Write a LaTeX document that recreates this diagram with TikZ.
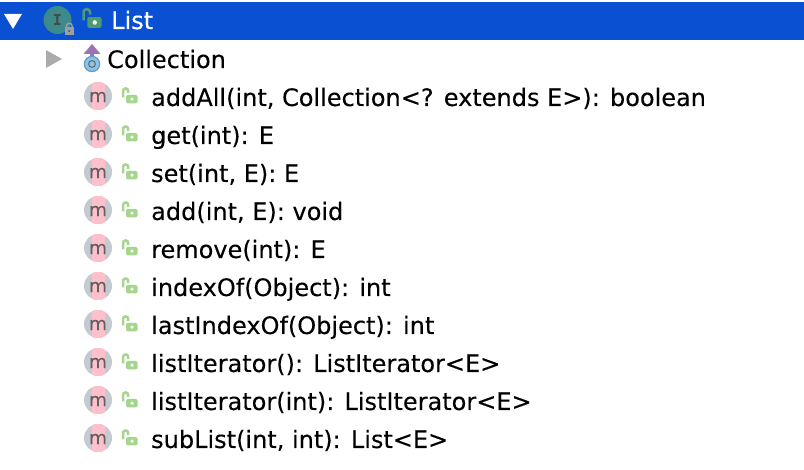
\documentclass[tikz,border=0pt]{standalone}
\usepackage{fontspec}
\setmainfont[FakeBold=0.12]{DejaVu Sans}
\newfontfamily\iconmono{DejaVu Sans Mono}
\newfontfamily\titlefont[FakeBold=0.5]{DejaVu Sans}
\definecolor{barblue}{HTML}{0A50D2}
\definecolor{lockgreen}{HTML}{A6D68E}
\definecolor{lockdark}{HTML}{4C9C70}
\definecolor{ifaceteal}{HTML}{3C8A8C}
\definecolor{methodgray}{HTML}{C4CAD0}
\definecolor{methodpink}{HTML}{FFC0CC}
\definecolor{inheritpurple}{HTML}{9A74B6}
\definecolor{ringblue}{HTML}{8CC4E8}
\definecolor{ringedge}{HTML}{5E9CC8}

\begin{document}
\begin{tikzpicture}[x=1pt,y=-1pt]
  \useasboundingbox (0,0) rectangle (804,470);

  \tikzset{row text/.style={anchor=base west, inner sep=0pt, text=black, font=\fontsize{24}{28}\selectfont}}
  \tikzset{open lock/.pic={
      \draw[#1, line width=2.5pt] (-2,1.5) -- (-2,-5) arc (180:360:2.6) -- (3.2,-3);
      \fill[#1, rounded corners=1.5pt] (1,-1) rectangle (12.5,7.5);
      \fill[white] (7,3.2) circle (1.8);
  }}
  \tikzset{method icon/.pic={
      \fill[methodgray] (0,0) circle (14);
      \begin{scope}
        \clip (0,0) circle (14);
        \fill[methodpink] (-6.5,-14) rectangle (6.5,14);
      \end{scope}
      \node[text=black!62, inner sep=0pt, font=\fontsize{18.5}{22}\selectfont] at (0,1) {m};
  }}

  % top bar
  \fill[barblue] (0,2) rectangle (804,40);
  \fill[white] (4,14) -- (22,14) -- (13,29) -- cycle;
  \fill[ifaceteal] (57.5,20) circle (14);
  \node[text=black!72, inner sep=0pt, font=\iconmono\bfseries\fontsize{15}{18}\selectfont] (ifaceletter) at (57.5,20.5) {I};
  \fill[black!38] (64.5,27) rectangle (74,35);
  \draw[black!38, line width=1.4pt] (66.5,27) -- (66.5,26) arc (180:360:2.8) -- (72,27);
  \fill[barblue] (69.2,31) circle (1);
  \pic[scale=1.25] at (86,18.5) {open lock=lockdark};
  \node[anchor=base west, inner sep=0pt, text=white, font=\titlefont\fontsize{24}{28}\selectfont] (listname) at (111,29) {List};

  % inherited
  \fill[black!33] (46,50) -- (62,59) -- (46,68) -- cycle;
  \fill[inheritpurple] (92,44) -- (100.5,54) -- (94,54) -- (94,59) -- (90,59) -- (90,54) -- (83.5,54) -- cycle;
  \fill[ringblue, draw=ringedge, line width=1.2pt] (92,64) circle (7.6);
  \draw[black!60, line width=1pt] (92,64) circle (3.4);
  \node[row text] (collection) at (107,68) {Collection};

  % methods
  \pic at (98,96) {method icon};
  \pic at (98,134) {method icon};
  \pic at (98,172) {method icon};
  \pic at (98,210) {method icon};
  \pic at (98,248) {method icon};
  \pic at (98,286) {method icon};
  \pic at (98,324) {method icon};
  \pic at (98,362) {method icon};
  \pic at (98,400) {method icon};
  \pic at (98,438) {method icon};

  \pic at (125,96) {open lock=lockgreen};
  \pic at (125,134) {open lock=lockgreen};
  \pic at (125,172) {open lock=lockgreen};
  \pic at (125,210) {open lock=lockgreen};
  \pic at (125,248) {open lock=lockgreen};
  \pic at (125,286) {open lock=lockgreen};
  \pic at (125,324) {open lock=lockgreen};
  \pic at (125,362) {open lock=lockgreen};
  \pic at (125,400) {open lock=lockgreen};
  \pic at (125,438) {open lock=lockgreen};

  \node[row text] (addall) at (151,106) {addAll(int, Collection<? extends E>): boolean};
  \node[row text] (get) at (151,144) {get(int): E};
  \node[row text] (set) at (151,182) {set(int, E): E};
  \node[row text] (add) at (151,220) {add(int, E): void};
  \node[row text] (remove) at (151,258) {remove(int): E};
  \node[row text] (indexof) at (151,296) {indexOf(Object): int};
  \node[row text] (lastindexof) at (151,334) {lastIndexOf(Object): int};
  \node[row text] (listiter) at (151,372) {listIterator(): ListIterator<E>};
  \node[row text] (listiterint) at (151,410) {listIterator(int): ListIterator<E>};
  \node[row text] (sublist) at (151,448) {subList(int, int): List<E>};
\end{tikzpicture}
\end{document}
